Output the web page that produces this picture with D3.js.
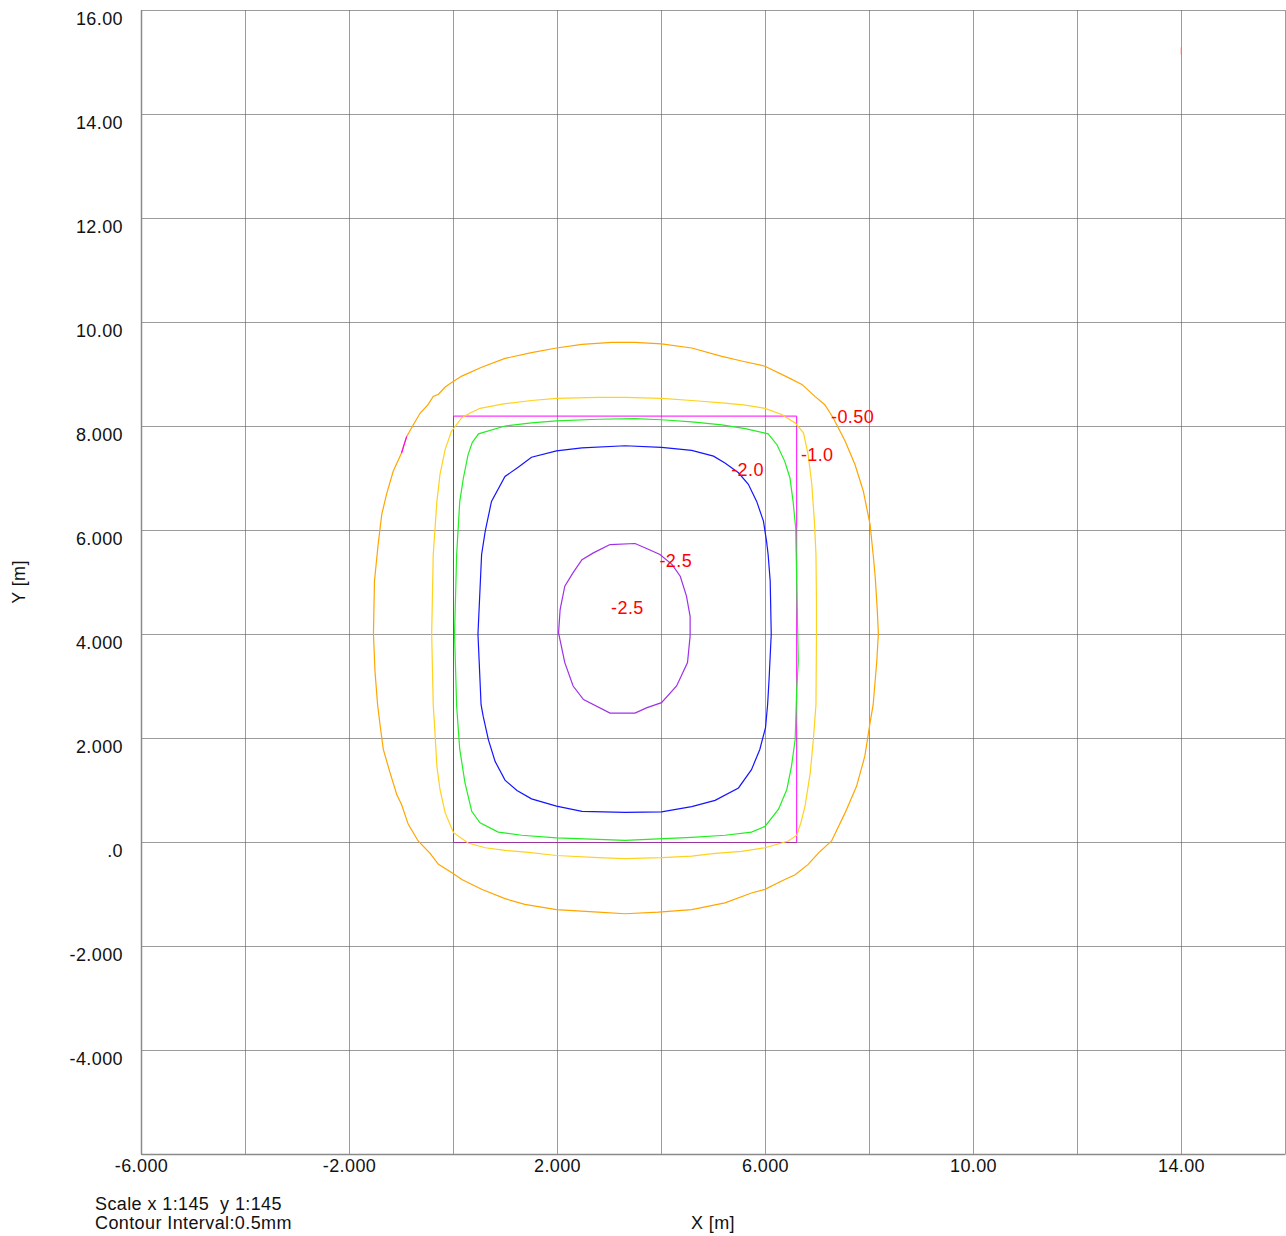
<!DOCTYPE html>
<html>
<head>
<meta charset="utf-8">
<script src="https://cdn.jsdelivr.net/npm/d3@7"></script>
<style>
  html, body { margin: 0; padding: 0; background: #fff; }
  svg text { font-family: "Liberation Sans", Arial, sans-serif; letter-spacing: 0.4px; }
</style>
</head>
<body>
<svg id="chart" width="1286" height="1236"></svg>
<script>
// ---------------- data ----------------
const xGridValues = [-6, -4, -2, 0, 2, 4, 6, 8, 10, 12, 14, 16];
const yGridValues = [-6, -4, -2, 0, 2, 4, 6, 8, 10, 12, 14, 16];
const xTickValues = [-6, -2, 2, 6, 10, 14];
const xTickLabels = ["-6.000", "-2.000", "2.000", "6.000", "10.00", "14.00"];
const yTickValues = [-4, -2, 0, 2, 4, 6, 8, 10, 12, 14, 16];
const yTickLabels = ["-4.000", "-2.000", ".0", "2.000", "4.000", "6.000", "8.000", "10.00", "12.00", "14.00", "16.00"];

// footing outline [x, y]
const footingOutline = [[0, 0], [6.6, 0], [6.6, 8.2], [0, 8.2]];

// contour levels
const contourLevels = [-0.5, -1.0, -1.5, -2.0, -2.5];

const contourM050 = [
  [3.05, 9.61], [3.50, 9.61], [4.01, 9.58], [4.59, 9.50], [5.17, 9.34], [5.55, 9.25], [6.00, 9.15],
  [6.45, 8.93], [6.71, 8.80], [6.96, 8.57], [7.15, 8.41], [7.31, 8.16], [7.54, 7.71], [7.73, 7.26],
  [7.89, 6.75], [8.02, 6.11], [8.08, 5.53], [8.12, 5.09], [8.16, 4.44], [8.18, 4.01], [8.15, 3.48],
  [8.08, 2.64], [8.02, 2.29], [7.92, 1.65], [7.76, 1.07], [7.54, 0.56], [7.28, 0.02], [7.03, -0.21],
  [6.83, -0.43], [6.58, -0.63], [6.32, -0.75], [6.00, -0.91], [5.74, -0.98], [5.23, -1.17],
  [4.59, -1.30], [3.95, -1.35], [3.31, -1.38], [2.79, -1.35], [1.99, -1.30], [1.38, -1.20],
  [1.00, -1.09], [0.55, -0.91], [0.17, -0.72], [0.01, -0.61], [-0.28, -0.43], [-0.44, -0.22],
  [-0.67, 0.02], [-0.86, 0.34], [-0.99, 0.72], [-1.08, 0.91], [-1.21, 1.33], [-1.34, 1.78],
  [-1.40, 2.23], [-1.45, 2.64], [-1.50, 3.28], [-1.53, 4.00], [-1.51, 5.02], [-1.44, 5.72],
  [-1.37, 6.30], [-1.28, 6.68], [-1.15, 7.13], [-0.99, 7.48], [-0.89, 7.80], [-0.76, 8.03],
  [-0.63, 8.25], [-0.48, 8.41], [-0.38, 8.57], [-0.28, 8.61], [-0.15, 8.75], [0.01, 8.86],
  [0.17, 8.96], [0.55, 9.13], [1.00, 9.30], [1.51, 9.41], [1.99, 9.50], [2.48, 9.57]
];
const contourM100 = [
  [2.79, 8.55], [3.31, 8.55], [4.01, 8.53], [4.59, 8.49], [5.23, 8.44], [5.62, 8.40], [6.00, 8.34],
  [6.32, 8.22], [6.58, 8.06], [6.74, 7.87], [6.83, 7.45], [6.90, 6.88], [6.95, 6.17], [6.98, 5.53],
  [6.99, 4.60], [6.99, 4.00], [6.98, 2.64], [6.93, 1.97], [6.87, 1.33], [6.77, 0.69], [6.69, 0.37],
  [6.61, 0.13], [6.45, 0.02], [6.00, -0.11], [5.55, -0.18], [5.04, -0.22], [4.59, -0.27],
  [4.01, -0.30], [3.31, -0.32], [2.79, -0.30], [1.99, -0.26], [1.45, -0.20], [1.00, -0.16],
  [0.62, -0.11], [0.29, -0.02], [0.01, 0.18], [-0.15, 0.56], [-0.25, 1.01], [-0.31, 1.46],
  [-0.35, 2.16], [-0.38, 2.64], [-0.41, 4.00], [-0.38, 5.53], [-0.31, 6.55], [-0.25, 7.07],
  [-0.15, 7.55], [-0.03, 7.90], [0.17, 8.16], [0.33, 8.25], [0.52, 8.34], [1.00, 8.43],
  [1.51, 8.49], [1.99, 8.53]
];
const contourM150 = [
  [2.79, 8.13], [3.50, 8.14], [4.01, 8.12], [4.59, 8.08], [5.17, 8.02], [5.62, 7.95], [6.06, 7.85],
  [6.23, 7.64], [6.38, 7.32], [6.48, 7.00], [6.54, 6.55], [6.59, 6.04], [6.60, 5.53], [6.64, 3.48],
  [6.61, 2.93], [6.58, 1.97], [6.51, 1.46], [6.42, 1.01], [6.26, 0.63], [6.00, 0.30], [5.74, 0.19],
  [5.23, 0.13], [4.59, 0.09], [3.95, 0.06], [3.31, 0.03], [2.79, 0.05], [1.99, 0.08], [1.32, 0.13],
  [0.87, 0.19], [0.52, 0.37], [0.36, 0.59], [0.23, 1.14], [0.13, 1.78], [0.07, 2.61], [0.03, 4.00],
  [0.07, 5.53], [0.13, 6.55], [0.20, 7.00], [0.29, 7.45], [0.37, 7.68], [0.49, 7.85], [1.00, 8.00],
  [1.51, 8.06], [1.99, 8.10]
];
const contourM200 = [
  [2.48, 7.58], [3.31, 7.62], [4.01, 7.59], [4.59, 7.53], [5.01, 7.42], [5.23, 7.29], [5.49, 7.10],
  [5.68, 6.88], [5.84, 6.55], [5.97, 6.17], [6.03, 5.78], [6.06, 5.53], [6.10, 5.02], [6.12, 4.00],
  [6.08, 3.16], [6.05, 2.64], [6.01, 2.20], [5.90, 1.78], [5.74, 1.39], [5.49, 1.04], [5.04, 0.80],
  [4.59, 0.68], [4.01, 0.58], [3.31, 0.57], [2.48, 0.59], [1.99, 0.69], [1.51, 0.83], [1.23, 0.99],
  [1.00, 1.19], [0.81, 1.55], [0.68, 1.97], [0.58, 2.42], [0.54, 2.64], [0.48, 4.00], [0.55, 5.53],
  [0.62, 5.98], [0.74, 6.55], [1.00, 7.03], [1.26, 7.21], [1.51, 7.40], [1.99, 7.52]
];
const contourM250 = [
  [3.02, 5.72], [3.50, 5.74], [3.69, 5.66], [3.98, 5.53], [4.21, 5.34], [4.37, 5.11], [4.49, 4.73],
  [4.56, 4.34], [4.56, 3.96], [4.51, 3.45], [4.30, 3.00], [4.01, 2.68], [3.72, 2.58], [3.50, 2.48],
  [3.02, 2.48], [2.51, 2.74], [2.31, 3.00], [2.15, 3.45], [2.03, 4.02], [2.06, 4.47], [2.15, 4.92],
  [2.31, 5.18], [2.48, 5.43], [2.70, 5.56]
];
// small highlighted segment on the -0.50 contour, and a stray mark
const markerSegment = [[-0.99, 7.48], [-0.89, 7.80]];
const strayMark = [[14.0, 15.28], [14.0, 15.14]];

// contour labels [x, y, text]
const labelX = [7.27, 6.69, 5.35, 3.97, 3.04];
const labelY = [8.05, 7.32, 7.04, 5.29, 4.39];
const labelText = ["-0.50", "-1.0", "-2.0", "-2.5", "-2.5"];

const contourSeries = [
  { level: contourLevels[0], pts: contourM050, color: "#ffa500" },
  { level: contourLevels[1], pts: contourM100, color: "#ffd21e" },
  { level: contourLevels[2], pts: contourM150, color: "#22ee22" },
  { level: contourLevels[3], pts: contourM200, color: "#1515ff" },
  { level: contourLevels[4], pts: contourM250, color: "#a030e8" }
];

// ---------------- chart ----------------
const svg = d3.select("#chart");
const L = 141, R = 1285, T = 10, B = 1154;
const x = d3.scaleLinear().domain([-6, 16]).range([L, R]);
const y = d3.scaleLinear().domain([-6, 16]).range([B, T]);

// footing outline (under grid so overlaps blend)
svg.append("path")
  .attr("d", d3.line().x(d => x(d[0]) + 0.5).y(d => y(d[1]) + 0.5)(footingOutline.concat([footingOutline[0]])))
  .attr("fill", "none").attr("stroke", "#ff00ff").attr("stroke-width", 1);

// grid
const grid = svg.append("g");
grid.selectAll("line.v").data(xGridValues).join("line")
  .attr("x1", d => Math.round(x(d)) + 0.5).attr("x2", d => Math.round(x(d)) + 0.5)
  .attr("y1", T).attr("y2", B)
  .attr("stroke", "#5a5a5a").attr("stroke-opacity", 0.6).attr("stroke-width", 1);
grid.selectAll("line.h").data(yGridValues).join("line")
  .attr("y1", d => Math.round(y(d)) + 0.5).attr("y2", d => Math.round(y(d)) + 0.5)
  .attr("x1", L).attr("x2", R)
  .attr("stroke", "#5a5a5a").attr("stroke-opacity", 0.6).attr("stroke-width", 1);

// axes (labels)
const xAxis = d3.axisBottom(x).tickValues(xTickValues)
  .tickFormat((d, i) => xTickLabels[i]).tickSize(0).tickPadding(5);
const gx = svg.append("g").attr("transform", `translate(0,${B})`).call(xAxis);
gx.select(".domain").attr("stroke", "#8a8a8a").attr("stroke-width", 1.5);
gx.selectAll("text").attr("font-size", 18).attr("fill", "#111")
  .attr("font-family", '"Liberation Sans", Arial, sans-serif');

const yAxis = d3.axisLeft(y).tickValues(yTickValues)
  .tickFormat((d, i) => yTickLabels[i]).tickSize(0).tickPadding(18);
const gy = svg.append("g").attr("transform", `translate(${L},0)`).call(yAxis);
gy.select(".domain").attr("stroke", "#8a8a8a").attr("stroke-width", 1.5);
gy.selectAll("text").attr("font-size", 18).attr("fill", "#111").attr("dy", "0.82em")
  .attr("font-family", '"Liberation Sans", Arial, sans-serif');

// contours
const line = d3.line().x(d => x(d[0])).y(d => y(d[1])).curve(d3.curveLinear);
svg.append("g").selectAll("path").data(contourSeries).join("path")
  .attr("d", s => line(s.pts.concat([s.pts[0]])))
  .attr("fill", "none").attr("stroke", s => s.color).attr("stroke-width", 1.2);

svg.append("path").attr("d", line(markerSegment))
  .attr("fill", "none").attr("stroke", "#ff00ff").attr("stroke-width", 1.2);
svg.append("path").attr("d", line(strayMark))
  .attr("fill", "none").attr("stroke", "#ff6060").attr("stroke-opacity", 0.5).attr("stroke-width", 1);

// contour labels
svg.append("g").selectAll("text").data(labelText).join("text")
  .attr("x", (d, i) => x(labelX[i])).attr("y", (d, i) => y(labelY[i]))
  .attr("font-size", 18).attr("fill", "#ff0000").text(d => d);

// axis titles and notes
svg.append("text").attr("x", (L + R) / 2).attr("y", 1229).attr("text-anchor", "middle")
  .attr("font-size", 18).attr("fill", "#111").text("X [m]");
svg.append("text").attr("transform", `translate(25,${(T + B) / 2}) rotate(-90)`)
  .attr("text-anchor", "middle").attr("font-size", 18).attr("fill", "#111").text("Y [m]");
svg.append("text").attr("x", 95).attr("y", 1210).attr("font-size", 18).attr("fill", "#111")
  .text("Scale x 1:145  y 1:145").attr("xml:space", "preserve").style("white-space", "pre");
svg.append("text").attr("x", 95).attr("y", 1229).attr("font-size", 18).attr("fill", "#111")
  .text("Contour Interval:0.5mm");
</script>
</body>
</html>
